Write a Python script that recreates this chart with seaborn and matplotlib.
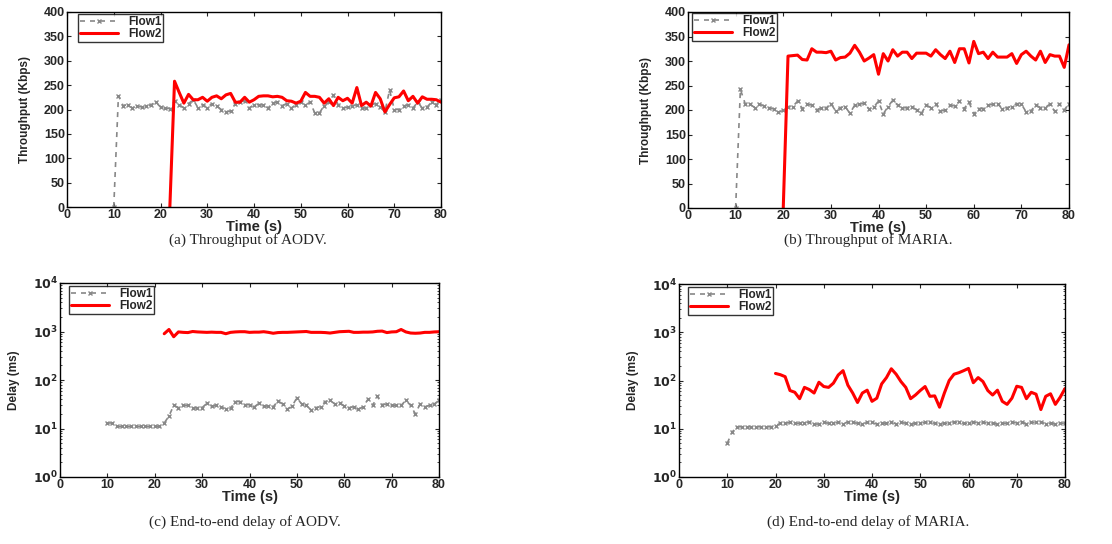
import seaborn as sns
import matplotlib.pyplot as plt
import matplotlib.ticker as mticker
import numpy as np
import pandas as pd

# ---- data ----
t_f1 = list(range(10, 81))

# (a) AODV throughput
aodv_thr_f1 = [0, 228, 208, 210, 203, 208, 205, 207, 210, 215, 205, 203, 202, 217, 210,
               203, 212, 220, 204, 210, 204, 212, 207, 200, 195, 197, 212, 215, 218, 203,
               210, 210, 209, 203, 213, 216, 208, 212, 203, 210, 215, 209, 215, 193, 193,
               208, 215, 229, 210, 203, 205, 207, 210, 203, 203, 210, 212, 205, 195, 240,
               200, 200, 207, 210, 203, 215, 203, 205, 215, 210, 220]
t_aodv_f2 = list(range(22, 81))
aodv_thr_f2 = [0, 258, 235, 213, 231, 220, 220, 225, 217, 225, 228, 222, 230, 233, 215,
               215, 225, 215, 220, 227, 228, 228, 226, 227, 225, 218, 217, 213, 217, 235,
               227, 227, 225, 213, 222, 208, 225, 218, 223, 213, 245, 208, 215, 207, 235,
               222, 195, 210, 224, 226, 238, 218, 227, 213, 226, 221, 221, 220, 215]

# (b) MARIA throughput
maria_thr_f1 = [0, 242, 213, 212, 205, 212, 208, 205, 202, 195, 200, 207, 207, 218, 203,
                212, 210, 200, 205, 204, 213, 198, 205, 207, 193, 210, 212, 214, 202, 206,
                218, 192, 207, 220, 210, 204, 205, 207, 200, 193, 210, 205, 213, 198, 200,
                210, 208, 218, 203, 216, 192, 203, 203, 210, 212, 213, 202, 205, 207, 213,
                212, 196, 198, 210, 205, 205, 212, 197, 213, 200, 213]
t_maria_f2 = list(range(20, 81))
maria_thr_f2 = [0, 310, 311, 312, 303, 302, 325, 318, 318, 317, 320, 302, 307, 308, 316,
                332, 318, 300, 306, 313, 273, 315, 300, 323, 310, 318, 318, 305, 316, 316,
                316, 310, 323, 313, 305, 320, 297, 325, 325, 296, 340, 315, 318, 305, 318,
                308, 308, 308, 315, 295, 313, 320, 310, 302, 320, 297, 313, 310, 310, 287,
                333]

# (c) AODV delay
aodv_dly_f1 = [13, 13, 11, 11, 11, 11, 11, 11, 11, 11, 11, 11, 13, 18, 30,
               27, 30, 30, 26, 27, 27, 33, 29, 30, 28, 25, 26, 36, 36, 31,
               31, 28, 33, 29, 29, 28, 37, 32, 25, 29, 43, 32, 30, 24, 27,
               28, 36, 38, 32, 34, 29, 27, 28, 25, 28, 40, 30, 46, 31, 32,
               30, 30, 30, 38, 30, 20, 32, 28, 30, 32, 38]
aodv_dly_f2 = [900, 1100, 780, 980, 960, 950, 1000, 980, 970, 960, 970, 960, 960, 900, 960,
               980, 990, 990, 960, 970, 970, 990, 960, 920, 950, 960, 960, 970, 980, 990,
               1000, 960, 960, 960, 950, 930, 960, 990, 1000, 1010, 960, 960, 970, 970, 980,
               1010, 1020, 950, 980, 990, 1100, 980, 930, 920, 930, 960, 960, 980, 990]

# (d) MARIA delay
maria_dly_f1 = [5, 8.5, 11, 11, 11, 11, 11, 11, 11, 11, 11.5, 13, 13, 13.5, 13,
                13, 13, 14, 12.5, 12.5, 13.5, 13, 13, 13.5, 12.5, 14, 13.5, 13, 12.5, 13.5,
                13.5, 12.5, 13, 13, 14, 12.5, 13.5, 13, 12.5, 13, 13, 13.5, 13.5, 13, 12.5,
                13, 13, 14, 13.5, 13, 13, 14, 13, 13.5, 13, 13, 12.5, 13, 13, 14,
                13, 14, 12.5, 13.5, 13.5, 14, 12.5, 13, 12.5, 13, 13]
maria_dly_f2 = [140, 132, 120, 62, 57, 42, 72, 65, 55, 92, 75, 72, 88, 130, 160,
                80, 55, 35, 55, 63, 37, 43, 85, 115, 175, 135, 95, 72, 42, 50,
                62, 75, 47, 48, 28, 55, 100, 135, 145, 160, 178, 90, 115, 95, 62,
                50, 63, 37, 32, 43, 76, 72, 42, 57, 52, 25, 47, 53, 32, 45, 68]

panels = [
    ("(a) Throughput of AODV.", "Throughput (Kbps)", t_f1, aodv_thr_f1, t_aodv_f2, aodv_thr_f2, False),
    ("(b) Throughput of MARIA.", "Throughput (Kbps)", t_f1, maria_thr_f1, t_maria_f2, maria_thr_f2, False),
    ("(c) End-to-end delay of AODV.", "Delay (ms)", t_f1, aodv_dly_f1, t_aodv_f2, aodv_dly_f2, True),
    ("(d) End-to-end delay of MARIA.", "Delay (ms)", t_f1, maria_dly_f1, t_maria_f2, maria_dly_f2, True),
]

sns.set_style("ticks")
plt.rcParams["font.family"] = ["Liberation Sans", "DejaVu Sans"]
plt.rcParams["font.weight"] = "bold"

fig = plt.figure(figsize=(11.12, 5.44), dpi=100)

# axes boxes in pixels: left, top, right, bottom
boxes = [(67, 12, 441, 207), (688, 12, 1069, 208), (60, 283, 439, 477), (679, 284, 1065, 477)]
caps = [(248, 240), (868, 240), (245, 522), (868, 522)]
legpos = [(78, 14), (692, 13), (69, 286), (688, 287)]
W, H = 1112, 544

for (cap, ylab, t1, y1, t2, y2, logy), (l, tp, r, b), (cx, cy), (lx, ly) in zip(panels, boxes, caps, legpos):
    ax = fig.add_axes([l / W, 1 - b / H, (r - l) / W, (b - tp) / H])
    sns.lineplot(x=t1, y=y1, ax=ax, color="#888888", linestyle=(0, (3, 3)), linewidth=1.2,
                 marker="x", markersize=3, markeredgewidth=1.0, markeredgecolor="#888888",
                 label="Flow1")
    sns.lineplot(x=t2, y=y2, ax=ax, color="#ff0000", linewidth=2.2, label="Flow2")
    ax.set_xlim(0, 80)
    ax.set_xticks(range(0, 81, 10))
    if logy:
        ax.set_yscale("log")
        ax.set_ylim(1, 1e4)
        ax.yaxis.set_major_locator(mticker.LogLocator(base=10, numticks=6))
        ax.yaxis.set_major_formatter(mticker.FuncFormatter(
            lambda v, p: r"$\mathbf{10^{%d}}$" % round(np.log10(v))))
    else:
        ax.set_ylim(0, 400)
        ax.set_yticks(range(0, 401, 50))
    ax.tick_params(direction="in", top=True, right=True, labelsize=9, length=3,
                   width=0.8, pad=1.5)
    ax.tick_params(which="minor", direction="in", top=True, right=True, length=1.5)
    for lab in ax.get_xticklabels() + ax.get_yticklabels():
        lab.set_fontweight("bold")
    for s in ax.spines.values():
        s.set_linewidth(1.0)
        s.set_color("black")
    ax.set_xlabel("Time (s)", fontsize=10.5, fontweight="bold", labelpad=-1)
    ax.set_ylabel(ylab, fontsize=8.5, fontweight="bold", labelpad=9)
    leg = ax.legend(loc="upper left", fontsize=8.5, frameon=True, fancybox=False,
                    bbox_to_anchor=((lx - l) / (r - l), 1 - (ly - tp) / (b - tp)),
                    borderaxespad=0, borderpad=0.15, labelspacing=0.0, handlelength=3.2,
                    handletextpad=0.9)
    leg.get_frame().set_edgecolor("black")
    leg.get_frame().set_linewidth(1.0)
    for txt in leg.get_texts():
        txt.set_fontweight("bold")
    fig.text(cx / W, 1 - cy / H, cap, ha="center", va="center", fontsize=11,
             family="Liberation Serif", fontweight="normal")

fig.savefig("out.png", dpi=100)
